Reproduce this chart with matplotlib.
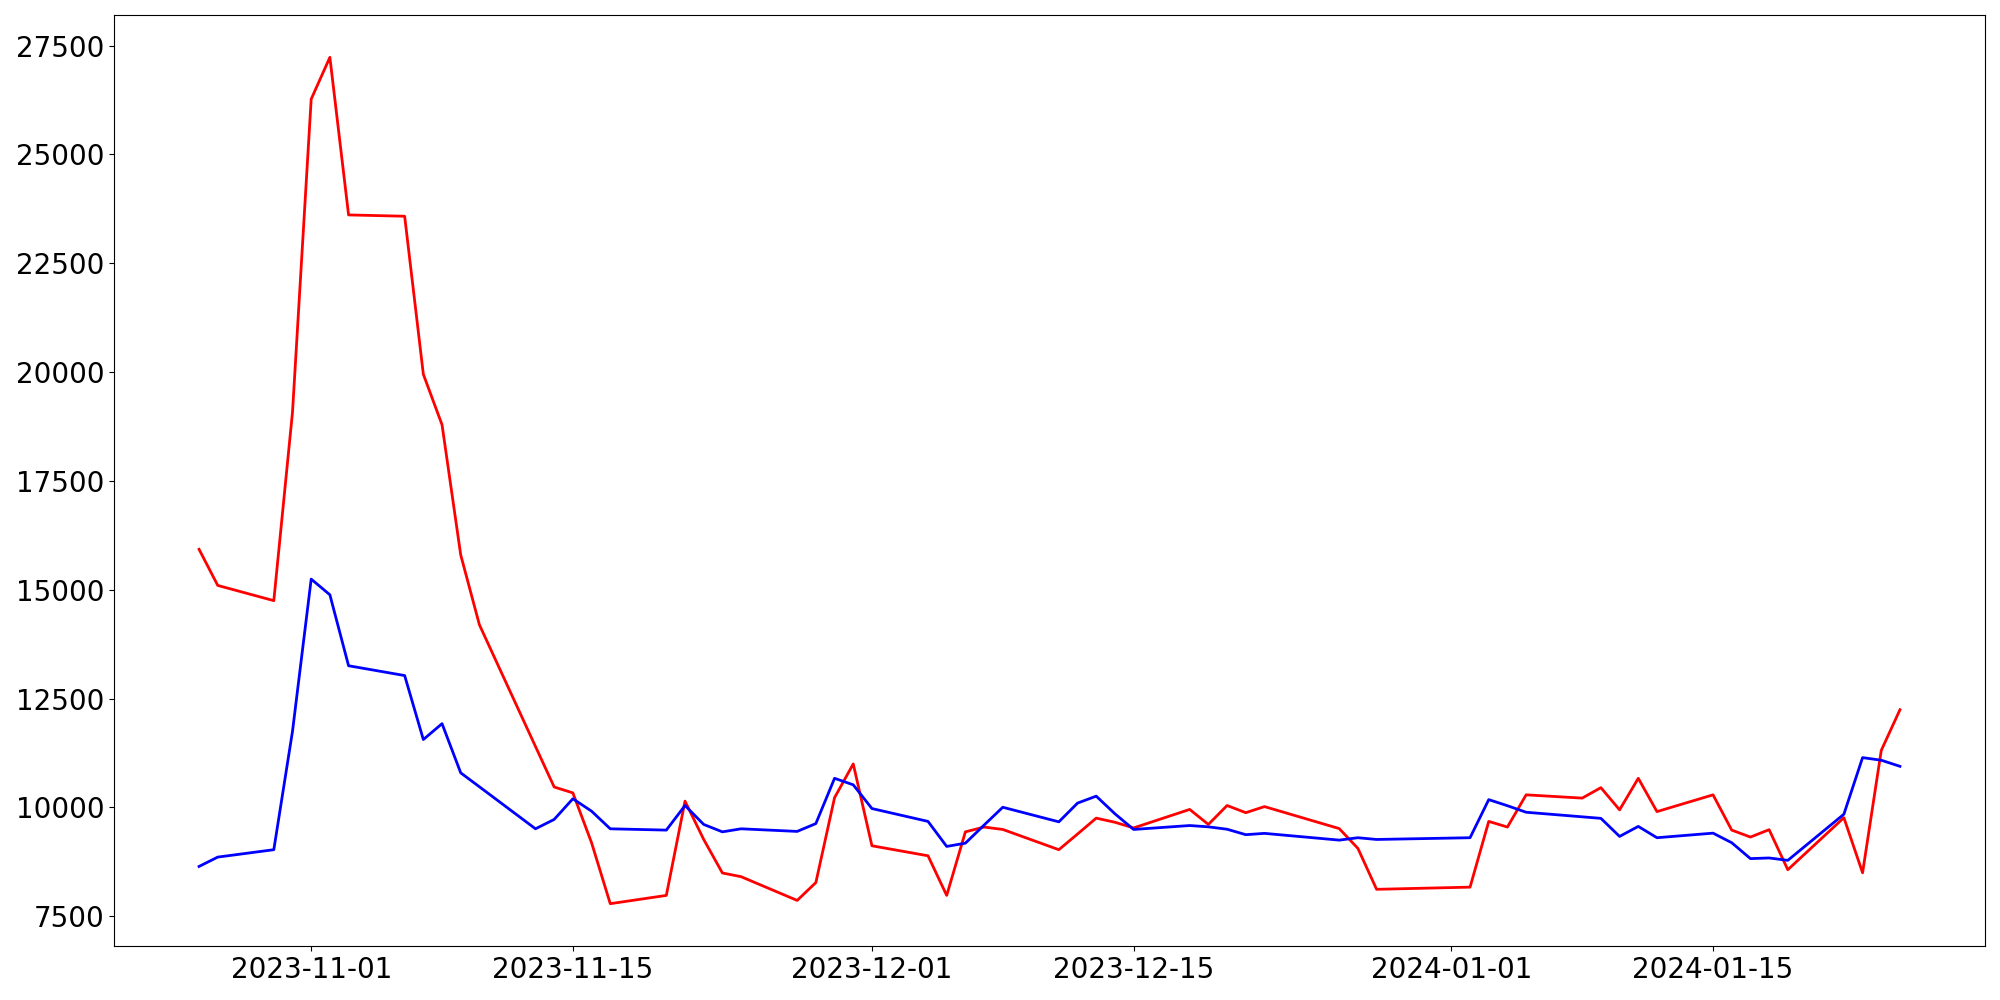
import matplotlib
matplotlib.use("Agg")
import matplotlib.pyplot as plt
import matplotlib.dates as mdates
import pandas as pd

dates = [
    "2023-10-26", "2023-10-27", "2023-10-30", "2023-10-31", "2023-11-01", "2023-11-02", "2023-11-03",
    "2023-11-06", "2023-11-07", "2023-11-08", "2023-11-09", "2023-11-10",
    "2023-11-13", "2023-11-14", "2023-11-15", "2023-11-16", "2023-11-17",
    "2023-11-20", "2023-11-21", "2023-11-22", "2023-11-23", "2023-11-24",
    "2023-11-27", "2023-11-28", "2023-11-29", "2023-11-30", "2023-12-01",
    "2023-12-04", "2023-12-05", "2023-12-06", "2023-12-07", "2023-12-08",
    "2023-12-11", "2023-12-12", "2023-12-13", "2023-12-14", "2023-12-15",
    "2023-12-18", "2023-12-19", "2023-12-20", "2023-12-21", "2023-12-22",
    "2023-12-26", "2023-12-27", "2023-12-28",
    "2024-01-02", "2024-01-03", "2024-01-04", "2024-01-05",
    "2024-01-08", "2024-01-09", "2024-01-10", "2024-01-11", "2024-01-12",
    "2024-01-15", "2024-01-16", "2024-01-17", "2024-01-18", "2024-01-19",
    "2024-01-22", "2024-01-23", "2024-01-24", "2024-01-25",
]

red_values = [
    15930, 15100, 14750, 19080, 26270, 27230, 23610,
    23580, 19950, 18790, 15800, 14195,
    11400, 10470, 10335, 9190, 7790,
    7980, 10145, 9265, 8495, 8410,
    7865, 8275, 10225, 11000, 9120,
    8890, 7980, 9440, 9550, 9495,
    9030, 9390, 9755, 9660, 9530,
    9955, 9610, 10045, 9880, 10020,
    9515, 9060, 8120,
    8170, 9680, 9550, 10290,
    10215, 10455, 9945, 10670, 9905,
    10290, 9480, 9320, 9490, 8570,
    9765, 8500, 11310, 12245,
]

blue_values = [
    8645, 8860, 9030, 11750, 15245, 14885, 13255,
    13030, 11560, 11925, 10795, 10475,
    9510, 9725, 10200, 9915, 9510,
    9480, 10045, 9610, 9440, 9510,
    9450, 9630, 10670, 10520, 9975,
    9680, 9105, 9180, 9595, 10005,
    9670, 10100, 10260, 9855, 9495,
    9585, 9555, 9500, 9375, 9405,
    9250, 9305, 9265,
    9305, 10180, 10040, 9890,
    9785, 9750, 9335, 9565, 9305,
    9410, 9190, 8825, 8840, 8785,
    9845, 11145, 11085, 10945,
]

y_ticks = [7500, 10000, 12500, 15000, 17500, 20000, 22500, 25000, 27500]

x = pd.to_datetime(dates)

fig, ax = plt.subplots(figsize=(20, 10), dpi=100)
ax.plot(x, red_values, color="red", linewidth=2)
ax.plot(x, blue_values, color="blue", linewidth=2)

ax.xaxis.set_major_locator(mdates.DayLocator(bymonthday=[1, 15]))
ax.xaxis.set_major_formatter(mdates.DateFormatter("%Y-%m-%d"))
ax.set_yticks(y_ticks)
ax.tick_params(axis="both", labelsize=20)

fig.subplots_adjust(left=0.057, right=0.9925, top=0.985, bottom=0.054)
fig.savefig("out.png", dpi=100)
